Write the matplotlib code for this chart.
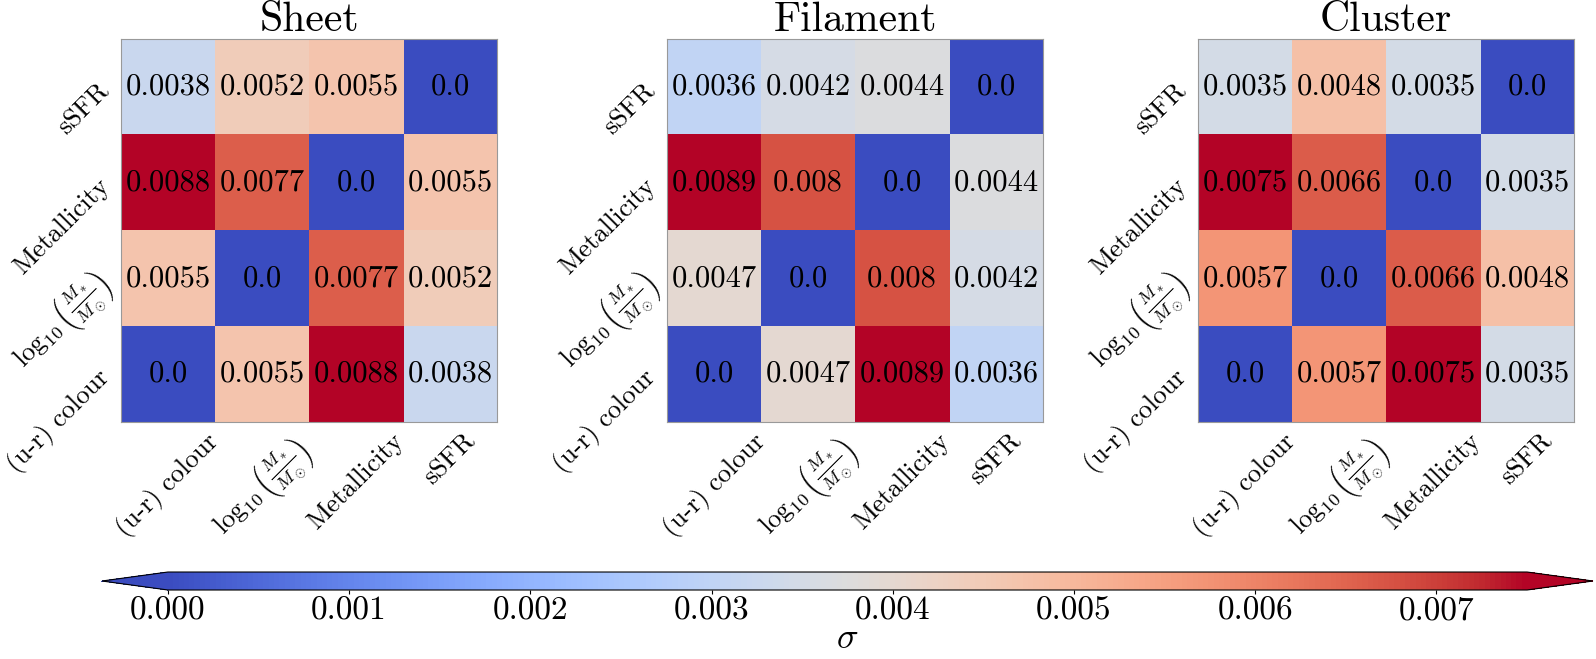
import numpy as np
import matplotlib
matplotlib.use("Agg")
import matplotlib.pyplot as plt

plt.rcParams['font.family'] = 'serif'
plt.rcParams['font.serif'] = ['cmr10', 'DejaVu Serif']
plt.rcParams['mathtext.fontset'] = 'cm'
plt.rcParams['axes.formatter.use_mathtext'] = True
plt.rcParams['axes.unicode_minus'] = False

labels = ['(u-r) colour', r'$\log_{10}\left(\frac{M_*}{M_\odot}\right)$', 'Metallicity', 'sSFR']
titles = ['Sheet', 'Filament', 'Cluster']

# pairwise values: colour-logM, colour-Met, colour-sSFR, logM-Met, logM-sSFR, Met-sSFR
sheet_pairs = [0.0055, 0.0088, 0.0038, 0.0077, 0.0052, 0.0055]
filament_pairs = [0.0047, 0.0089, 0.0036, 0.008, 0.0042, 0.0044]
cluster_pairs = [0.0057, 0.0075, 0.0035, 0.0066, 0.0048, 0.0035]

cbar_ticks = [0.000, 0.001, 0.002, 0.003, 0.004, 0.005, 0.006, 0.007]


def build(p):
    m = np.zeros((4, 4))
    idx = [(0, 1), (0, 2), (0, 3), (1, 2), (1, 3), (2, 3)]
    for (i, j), v in zip(idx, p):
        m[i, j] = v
        m[j, i] = v
    return m


mats = [build(sheet_pairs), build(filament_pairs), build(cluster_pairs)]

fig = plt.figure(figsize=(15.96, 6.59), dpi=100)
lefts = [0.0758, 0.418, 0.7506]
ims = []
for k, (m, t, l) in enumerate(zip(mats, titles, lefts)):
    ax = fig.add_axes([l, 0.3596, 0.2356, 0.5812])
    im = ax.imshow(m, cmap='coolwarm', vmin=0, vmax=m.max(), origin='lower',
                   aspect='auto', interpolation='nearest')
    ims.append(im)
    for i in range(4):
        for j in range(4):
            ax.text(j, i, f"{m[i, j]}", ha='center', va='center', fontsize=22, color='black')
    ax.set_xticks(range(4))
    ax.set_yticks(range(4))
    ax.set_xticklabels(labels, rotation=45, fontsize=19)
    ax.set_yticklabels(labels, rotation=45, fontsize=19, va='center', ha='right',
                       rotation_mode='anchor')
    ax.tick_params(axis='x', length=0, pad=5)
    ax.tick_params(axis='y', length=0, pad=11)
    for s in ax.spines.values():
        s.set_color('#999999')
        s.set_linewidth(0.8)
    ax.set_title(t, fontsize=30, pad=4)

cax = fig.add_axes([0.0639, 0.1047, 0.9342, 0.0273])
cb = fig.colorbar(ims[2], cax=cax, orientation='horizontal', extend='both', extendfrac=0.0485)
cb.set_ticks(cbar_ticks)
cb.ax.set_xticklabels([f"{v:.3f}" for v in cbar_ticks])
cb.ax.tick_params(labelsize=24, length=3, pad=2)
cb.set_label(r'$\sigma$', fontsize=26, labelpad=-2)

fig.savefig('out.png', dpi=100)
